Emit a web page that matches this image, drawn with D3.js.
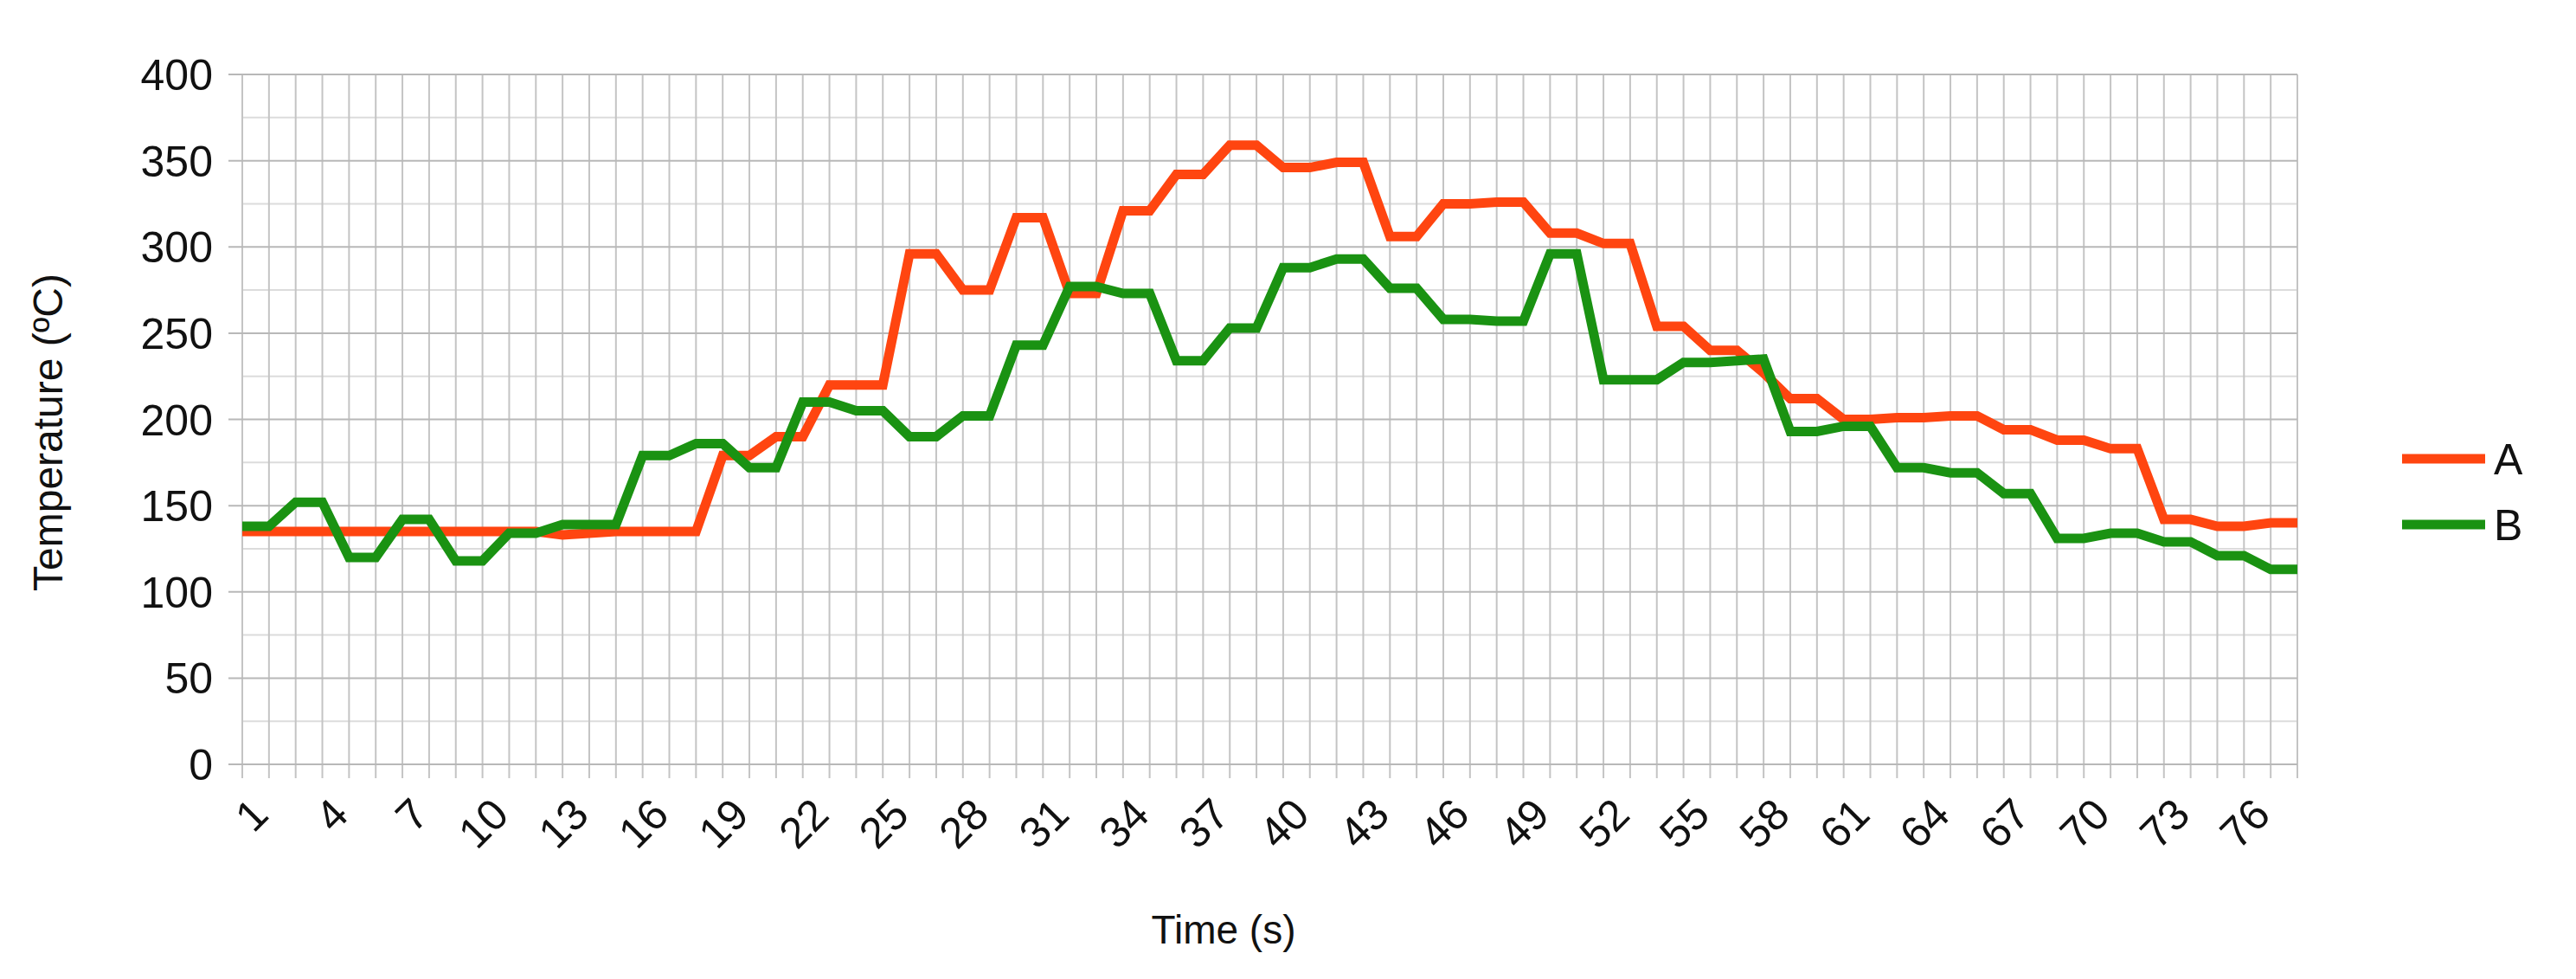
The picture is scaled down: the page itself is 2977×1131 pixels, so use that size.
<!DOCTYPE html>
<html><head><meta charset="utf-8">
<script src="https://cdn.jsdelivr.net/npm/d3@7"></script>
<style>body{margin:0;background:#fff}</style></head>
<body><svg id="c" width="2977" height="1131"></svg>
<script>
const times = d3.range(1, 79);
const seriesA = [135,135,135,135,135,135,135,135,135,135,135,135,133,134,135,135,135,135,179,179,190,190,220,220,220,296,296,275,275,317,317,273,273,321,321,342,342,359,359,346,346,349,349,306,306,325,325,326,326,308,308,302,302,254,254,240,240,227,212,212,200,200,201,201,202,202,194,194,188,188,183,183,142,142,138,138,140,140];
const seriesB = [138,138,152,152,120,120,142,142,118,118,134,134,139,139,139,179,179,186,186,172,172,210,210,205,205,190,190,202,202,243,243,277,277,273,273,234,234,253,253,288,288,293,293,276,276,258,258,257,257,296,296,223,223,223,233,233,234,235,193,193,196,196,172,172,169,169,157,157,131,131,134,134,129,129,121,121,113,113];
const seriesNames = ["A","B"];
const colors = ["#ff4510","#1a9212"];
const yMajor = [0,50,100,150,200,250,300,350,400];
const xLabels = times.filter(t => (t-1)%3===0);

const svg = d3.select("#c");
const L=280,R=2655,T=86,B=883;
const x = d3.scaleLinear().domain([1,78]).range([L,R]);
const y = d3.scaleLinear().domain([0,400]).range([B,T]);
const font = "Liberation Sans, Arial, sans-serif";

svg.append("g").selectAll("line").data(d3.range(25,400,50)).join("line")
  .attr("x1",L).attr("x2",R).attr("y1",d=>y(d)).attr("y2",d=>y(d))
  .attr("stroke","#dcdcdc").attr("stroke-width",2);
svg.append("g").selectAll("line").data(times).join("line")
  .attr("x1",d=>x(d)).attr("x2",d=>x(d)).attr("y1",T).attr("y2",B+16)
  .attr("stroke","#c4c4c4").attr("stroke-width",2);
svg.append("g").selectAll("line").data(yMajor).join("line")
  .attr("x1",L-16).attr("x2",R).attr("y1",d=>y(d)).attr("y2",d=>y(d))
  .attr("stroke","#b8b8b8").attr("stroke-width",2);

svg.append("g").selectAll("text").data(yMajor).join("text")
  .attr("x",L-34).attr("y",d=>y(d)).attr("dy","0.36em").attr("text-anchor","end")
  .attr("font-family",font).attr("font-size",50).attr("fill","#111").text(d=>d);
svg.append("g").selectAll("text").data(xLabels).join("text")
  .attr("transform",d=>`translate(${x(d)+8},${B+36}) rotate(-45)`)
  .attr("text-anchor","end").attr("dy","0.7em")
  .attr("font-family",font).attr("font-size",50).attr("fill","#111").text(d=>d);

svg.append("text").attr("x",1414).attr("y",1090).attr("text-anchor","middle")
  .attr("font-family",font).attr("font-size",46).attr("fill","#111").text("Time (s)");
svg.append("text").attr("transform",`translate(72,${(T+B)/2+15}) rotate(-90)`).attr("text-anchor","middle")
  .attr("font-family",font).attr("font-size",48).attr("fill","#111").text("Temperature (ºC)");

const line = d3.line().x((d,i)=>x(times[i])).y(d=>y(d));
[seriesA,seriesB].forEach((s,k)=>{
  svg.append("path").attr("d",line(s)).attr("fill","none").attr("stroke",colors[k])
    .attr("stroke-width",11).attr("stroke-linejoin","miter");
});

seriesNames.forEach((n,k)=>{
  const ly = 530 + k*76;
  svg.append("line").attr("x1",2776).attr("x2",2872).attr("y1",ly).attr("y2",ly)
    .attr("stroke",colors[k]).attr("stroke-width",11);
  svg.append("text").attr("x",2882).attr("y",ly).attr("dy","0.36em")
    .attr("font-family",font).attr("font-size",50).attr("fill","#111").text(n);
});
</script></body></html>
